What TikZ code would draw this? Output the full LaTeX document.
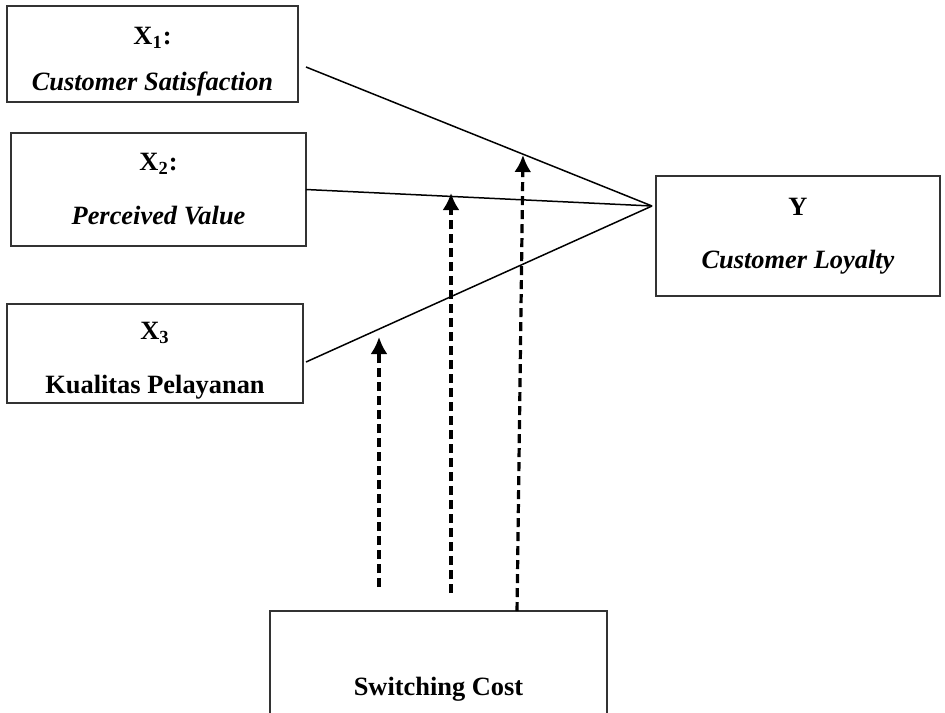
\documentclass[tikz,border=0pt]{standalone}
\usepackage{fontspec}
\setmainfont{Liberation Serif}
\usetikzlibrary{arrows.meta,calc}
\begin{document}
\begin{tikzpicture}[x=0.5pt,y=-0.5pt,>=Latex]
        % Styles
        \tikzstyle{box} = [rectangle, draw=black!80, line width=0.95pt,
                           inner sep=0pt, outer sep=0pt, align=center,
                           font=\fontsize{13.2}{16}\selectfont\bfseries]
        \tikzstyle{link} = [line width=0.75pt]
        \tikzstyle{moder} = [-{Latex[length=8.5pt,width=8.5pt]}, line width=1.6pt,
                             dash pattern=on 4.5pt off 2.5pt]

        \useasboundingbox (0,0) rectangle (945,712);

        % ==== Nodes ====
        \node[box, minimum width=145.5pt, minimum height=48pt]   (x1) at (152.5,54)  {\rule{0pt}{16pt}X\textsubscript{1}:\\[7pt]\itshape Customer Satisfaction};
        \node[box, minimum width=147.5pt, minimum height=56.5pt] (x2) at (158.5,189.5) {X\textsubscript{2}:\\[11pt]\itshape Perceived Value};
        \node[box, minimum width=148pt, minimum height=49.5pt]   (x3) at (155,353.5) {\rule{0pt}{16pt}X\textsubscript{3}\\[11pt]Kualitas Pelayanan};
        \node[box, minimum width=142pt, minimum height=60pt]     (y)  at (798,236)   {Y\\[10.5pt]\itshape Customer Loyalty};
        \node[box, minimum width=168.5pt, minimum height=75pt]   (sc) at (438.5,686) {\rule{0pt}{12.5pt}Switching Cost};

        % ==== Direct paths ====
        \coordinate (yin) at ($(y.west)+(-4,-30)$);
        \draw[link] ($(x1.east)+(8,13)$) -- (yin);
        \draw[link] (x2.east) -- (yin);
        \draw[link] ($(x3.east)+(3,8.5)$) -- (yin);

        % ==== Moderating arrows ====
        \coordinate (s1) at (379,587);
        \coordinate (t1) at (379,337);
        \coordinate (s2) at (451,593);
        \coordinate (t2) at (451,193);
        \coordinate (t3) at (523,155);
        \draw[moder] (s1) -- (t1);
        \draw[moder] (s2) -- (t2);
        \draw[moder] ($(sc.north west)!0.733!(sc.north east)$) -- (t3);
\end{tikzpicture}
\end{document}
